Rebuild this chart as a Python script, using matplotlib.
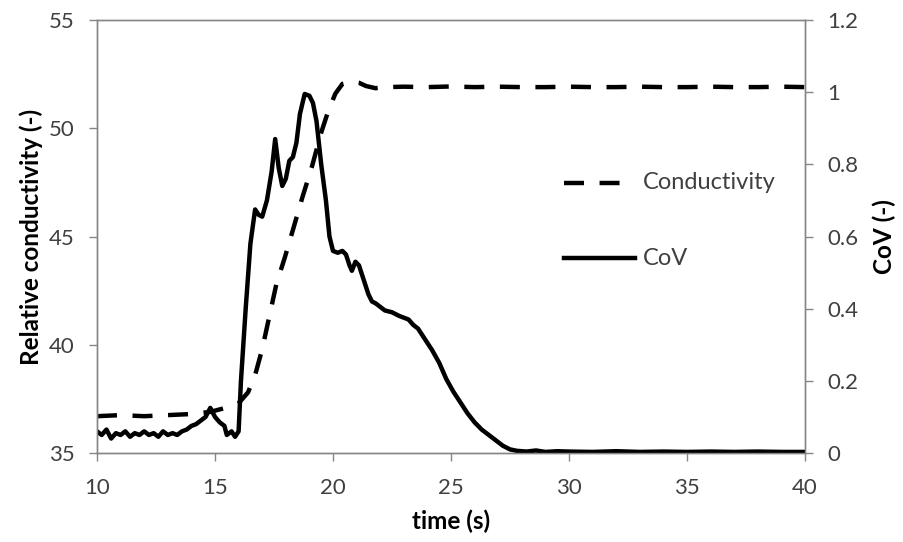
import matplotlib.pyplot as plt

# conductivity (left axis)
cond_t = [10.0, 11.0, 12.0, 13.0, 14.0, 14.8, 15.5, 16.0, 16.4, 16.7, 17.0, 17.3, 17.6,
          17.95, 18.3, 18.7, 19.1, 19.5, 19.8, 20.1, 20.4, 20.8, 21.1, 21.4, 21.8, 22.3,
          23.0, 24.0, 25.0, 26.0, 27.0, 28.0, 29.0, 30.0, 31.0, 32.0, 33.0, 34.0, 35.0,
          36.0, 37.0, 38.0, 39.0, 40.0]
cond_v = [36.7, 36.75, 36.7, 36.75, 36.8, 36.9, 37.1, 37.3, 37.8, 38.6, 39.8, 41.3, 42.8,
          44.0, 45.3, 46.8, 48.2, 49.8, 50.8, 51.6, 52.05, 52.15, 52.1, 51.95, 51.85, 51.9,
          51.92, 51.9, 51.93, 51.9, 51.92, 51.9, 51.9, 51.92, 51.9, 51.9, 51.92, 51.9, 51.9,
          51.92, 51.9, 51.9, 51.92, 51.9]

# coefficient of variation (right axis)
cov_t = [10.0, 10.2, 10.4, 10.6, 10.8, 11.0, 11.2, 11.4, 11.6, 11.8, 12.0, 12.2, 12.4,
         12.6, 12.8, 13.0, 13.2, 13.4, 13.6, 13.8, 14.0, 14.2, 14.4, 14.6, 14.8, 15.0,
         15.2, 15.4, 15.5, 15.7, 15.85, 16.0, 16.1, 16.3, 16.5, 16.7, 16.85, 17.0, 17.2,
         17.4, 17.55, 17.7, 17.85, 18.0, 18.15, 18.3, 18.45, 18.6, 18.8, 19.0, 19.15,
         19.3, 19.5, 19.7, 19.85, 20.0, 20.2, 20.4, 20.55, 20.7, 20.8, 20.95, 21.1, 21.3,
         21.5, 21.65, 21.8, 22.0, 22.2, 22.5, 22.8, 23.0, 23.2, 23.4, 23.6, 23.9, 24.2,
         24.5, 24.8, 25.1, 25.4, 25.7, 26.0, 26.3, 26.6, 26.9, 27.2, 27.5, 27.8, 28.2,
         28.6, 29.0, 29.5, 30.0, 31.0, 32.0, 33.0, 34.0, 35.0, 36.0, 37.0, 38.0, 39.0, 40.0]
cov_v = [0.06, 0.05, 0.065, 0.04, 0.055, 0.05, 0.06, 0.045, 0.055, 0.05, 0.06, 0.05, 0.055,
         0.045, 0.06, 0.05, 0.055, 0.05, 0.06, 0.065, 0.075, 0.08, 0.09, 0.1, 0.125, 0.1,
         0.085, 0.075, 0.05, 0.06, 0.045, 0.06, 0.2, 0.4, 0.58, 0.675, 0.66, 0.655, 0.7,
         0.78, 0.87, 0.79, 0.74, 0.76, 0.81, 0.82, 0.86, 0.94, 0.995, 0.99, 0.97,
         0.92, 0.8, 0.7, 0.6, 0.56, 0.555, 0.56, 0.55, 0.52, 0.505, 0.53, 0.52, 0.48,
         0.44, 0.42, 0.415, 0.405, 0.395, 0.39, 0.38, 0.375, 0.37, 0.355, 0.345, 0.315, 0.285,
         0.25, 0.205, 0.17, 0.14, 0.11, 0.085, 0.065, 0.05, 0.035, 0.02, 0.01, 0.006, 0.004,
         0.007, 0.003, 0.005, 0.004, 0.003, 0.005, 0.003, 0.004, 0.003, 0.004, 0.003, 0.004, 0.003, 0.003]

plt.rcParams['font.family'] = ['Lato', 'DejaVu Sans']
spine_col = '#868686'
txt_col = '#404040'

fig = plt.figure(figsize=(9.04, 5.42), dpi=100)
ax = fig.add_axes([0.1073, 0.1642, 0.7832, 0.7989])
ax2 = ax.twinx()

ax.plot(cond_t, cond_v, color='black', linewidth=3.2, linestyle=(0, (4.5, 3.5)))
ax2.plot(cov_t, cov_v, color='black', linewidth=3.2)

ax.set_xlim(10, 40)
ax.set_ylim(35, 55)
ax2.set_ylim(0, 1.2)
ax.set_xticks(range(10, 41, 5))
ax.set_yticks(range(35, 56, 5))
ax2.set_yticks([0, 0.2, 0.4, 0.6, 0.8, 1.0, 1.2])
ax2.set_yticklabels(['0', '0.2', '0.4', '0.6', '0.8', '1', '1.2'])

for a in (ax, ax2):
    for s in a.spines.values():
        s.set_color(spine_col)
        s.set_linewidth(1.0)
    a.tick_params(direction='out', length=6, width=1.0, color=spine_col,
                  labelsize=16, labelcolor=txt_col, pad=10)
ax.tick_params(axis='x', pad=12)

ax.set_xlabel('time (s)', fontsize=17.5, fontweight='bold', color='black', labelpad=8)
ax.set_ylabel('Relative conductivity (-)', fontsize=17.5, fontweight='bold', color='black', labelpad=4)
ax2.set_ylabel('CoV (-)', fontsize=17.5, fontweight='bold', color='black', labelpad=10)

# legend drawn as plain lines and text inside the axes
ax.plot([0.66, 0.745], [0.624, 0.624], transform=ax.transAxes, color='black',
        linewidth=3.2, linestyle=(0, (4.5, 3.5)))
ax.text(0.771, 0.624, 'Conductivity', transform=ax.transAxes, fontsize=17,
        color=txt_col, va='center')
ax.plot([0.66, 0.76], [0.45, 0.45], transform=ax.transAxes, color='black', linewidth=3.2)
ax.text(0.771, 0.45, 'CoV', transform=ax.transAxes, fontsize=17,
        color=txt_col, va='center')

fig.savefig('out.png', dpi=100)
